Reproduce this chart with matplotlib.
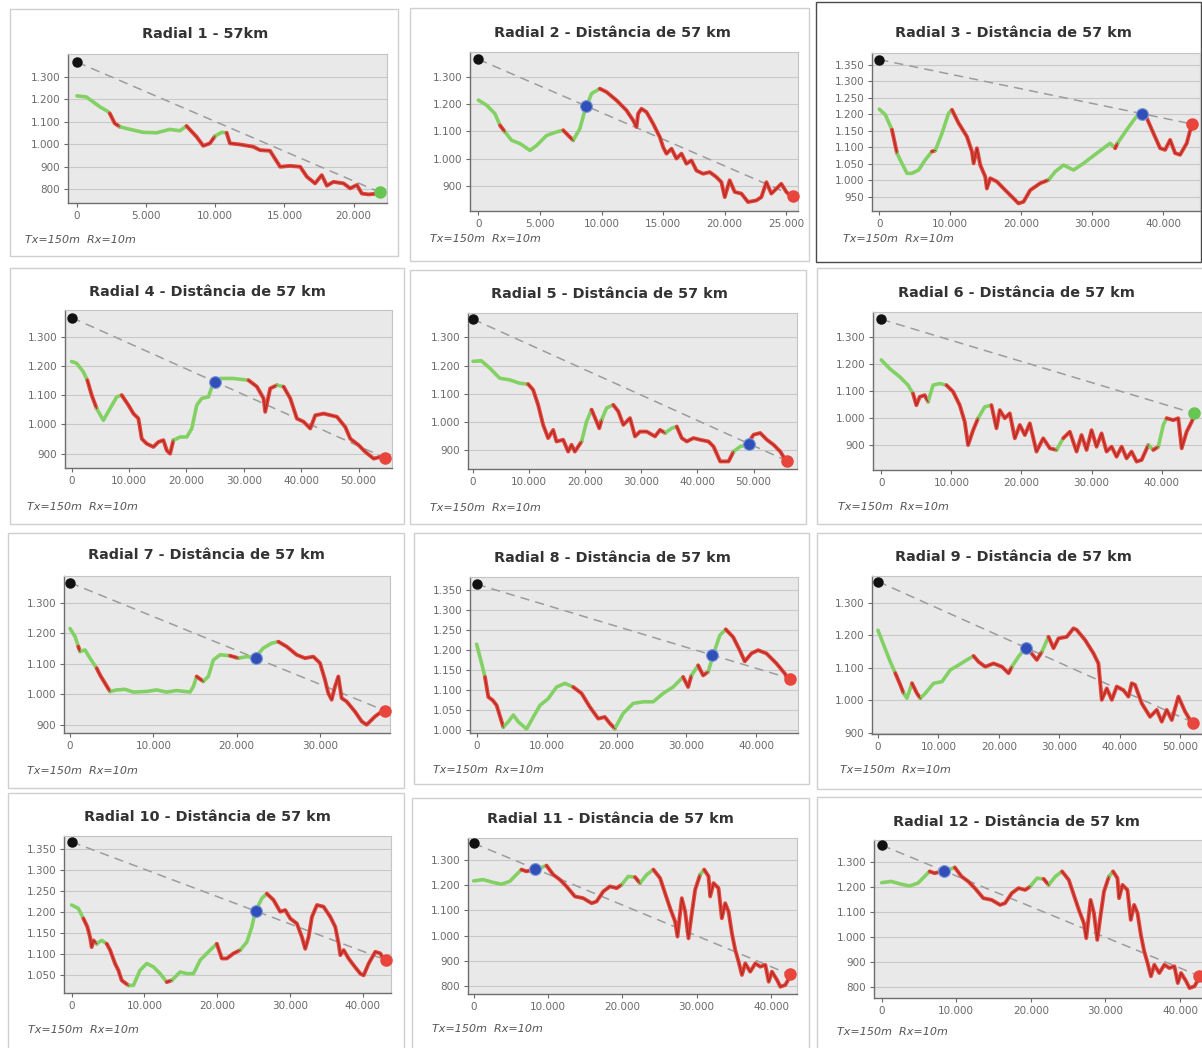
import numpy as np
import matplotlib
matplotlib.use("Agg")
import matplotlib.pyplot as plt
from matplotlib.patches import Rectangle
from matplotlib.ticker import FixedLocator, FuncFormatter

# Antenna heights above ground (m)
TX_HEIGHT = 150
RX_HEIGHT = 10

titles = [
    "Radial 1 - 57km",
    "Radial 2 - Distância de 57 km",
    "Radial 3 - Distância de 57 km",
    "Radial 4 - Distância de 57 km",
    "Radial 5 - Distância de 57 km",
    "Radial 6 - Distância de 57 km",
    "Radial 7 - Distância de 57 km",
    "Radial 8 - Distância de 57 km",
    "Radial 9 - Distância de 57 km",
    "Radial 10 - Distância de 57 km",
    "Radial 11 - Distância de 57 km",
    "Radial 12 - Distância de 57 km",
]
note_text = "Tx=150m  Rx=10m"

# ---- terrain profiles: distance (m), ground elevation (m), obstructed (red) spans ----
r1_dist = [0, 680, 1640, 2250, 2370, 2730, 3090, 3570, 4780, 5750, 6710, 7440, 7920, 8650, 9130,
           9610, 9980, 10460, 10820, 11060, 11790, 12750, 13240, 13960, 14690, 15410, 16140, 16620,
           17220, 17700, 18070, 18550, 19280, 19760, 20240, 20600, 21090, 21690, 21930]
r1_elev = [1215, 1210, 1167, 1145, 1137, 1093, 1078, 1070, 1053, 1051, 1066, 1060, 1081, 1033, 993,
           1004, 1036, 1053, 1051, 1004, 999, 989, 974, 971, 900, 904, 900, 856,
           826, 863, 816, 833, 826, 804, 819, 781, 777, 781, 776]
r1_red = [(2370, 3090), (7920, 9980), (10820, 21930)]
r1_blue = None

r2_dist = [0, 680, 1350, 1760, 2160, 2700, 3380, 4190, 4730, 5540, 6350, 6890, 7300, 7700, 8240,
           8650, 9190, 9860, 10400, 11220, 12030, 12570, 12840, 12970, 13240, 13650, 14190, 14730,
           15000, 15270, 15680, 16080, 16490, 16890, 17300, 17700, 18240, 18780, 19320, 19730, 20000,
           20400, 20810, 21350, 21890, 22570, 22970, 23380, 23780, 24190, 24590, 25000, 25540]
r2_elev = [1215, 1196, 1165, 1122, 1098, 1067, 1055, 1030, 1048, 1085, 1098, 1104, 1085, 1067, 1110,
           1177, 1239, 1257, 1245, 1214, 1177, 1140, 1116, 1165, 1183, 1171, 1128, 1079,
           1042, 1018, 1036, 1000, 1018, 981, 993, 956, 944, 950, 932, 913, 858,
           920, 877, 871, 840, 846, 858, 913, 871, 889, 907, 877, 854]
r2_red = [(1760, 2160), (6890, 7700), (9860, 25540)]
r2_blue = 8730

r3_dist = [0, 850, 1780, 2490, 3190, 3900, 4600, 5540, 6480, 7420, 7890, 8830, 9770, 10240, 11170,
           12350, 13050, 13290, 13760, 14230, 14930, 15160, 15630, 16570, 17750, 18690, 19620, 20330,
           21270, 22680, 23850, 24790, 25960, 27370, 28780, 30660, 32540, 33240, 33570, 34880, 36060,
           36760, 37700, 38640, 39580, 40280, 40990, 41690, 42390, 43330, 43800, 44130]
r3_elev = [1215, 1198, 1153, 1082, 1051, 1021, 1021, 1031, 1062, 1087, 1090, 1142, 1203, 1213, 1173,
           1132, 1087, 1051, 1097, 1046, 1011, 975, 1006, 996, 970, 950, 930, 935,
           970, 991, 1001, 1026, 1046, 1031, 1051, 1082, 1112, 1097, 1112, 1153, 1188,
           1203, 1188, 1142, 1097, 1092, 1122, 1082, 1077, 1112, 1150, 1160]
r3_red = [(1780, 2490), (7420, 7890), (10240, 23850), (33240, 33570), (36760, 44130)]
r3_blue = 37000

r4_dist = [0, 870, 2030, 2730, 3490, 4360, 5520, 6690, 7850, 8720, 9880, 10760, 11630, 12210, 13080,
           14240, 15120, 15990, 16570, 17150, 17730, 18900, 20060, 20930, 21800, 22670, 23840, 24710,
           25870, 28200, 30810, 32270, 33430, 33720, 34590, 35760, 36920, 38080, 39240, 40410, 41570,
           42440, 43900, 46220, 47670, 48550, 50000, 51160, 52620, 53780, 54650]
r4_elev = [1215, 1209, 1180, 1151, 1100, 1054, 1014, 1054, 1094, 1100, 1066, 1037, 1020, 951, 934,
           923, 940, 946, 911, 900, 946, 957, 957, 986, 1066, 1089, 1094, 1146,
           1157, 1157, 1151, 1129, 1089, 1043, 1123, 1134, 1129, 1089, 1020, 1009, 986,
           1031, 1037, 1026, 991, 951, 929, 906, 883, 889, 875]
r4_red = [(2730, 4360), (8720, 17730), (30810, 35760), (36920, 54650)]
r4_blue = 25000

r5_dist = [0, 1490, 2980, 4760, 6550, 8330, 9820, 10710, 11610, 12500, 13390, 14290, 14880, 16070,
           16960, 17560, 18150, 19350, 20240, 21130, 22020, 22500, 22920, 23810, 25000, 25890, 26790,
           27980, 28870, 29760, 30950, 32440, 33330, 34230, 35420, 36310, 37200, 38100, 39290, 40480,
           41960, 42860, 44050, 45540, 46430, 47620, 48810, 50000, 51190, 52380, 53570, 54760, 55650,
           55950]
r5_elev = [1215, 1217, 1191, 1155, 1149, 1137, 1134, 1114, 1060, 989, 942, 971, 930, 936,
           894, 918, 894, 930, 1001, 1043, 1001, 977, 1007, 1049, 1060, 1037, 989,
           1013, 948, 965, 965, 948, 971, 960, 977, 983, 942, 930, 942, 936,
           930, 912, 859, 859, 894, 912, 918, 954, 960, 936, 918, 894, 865,
           851]
r5_red = [(9820, 19350), (21130, 22920), (25000, 34230), (36310, 46430), (48810, 55950)]
r5_blue = 49100

r6_dist = [0, 1190, 2620, 3810, 4520, 5000, 5480, 6190, 6670, 7380, 8330, 9290, 10240, 11190, 11900,
           12380, 13100, 13810, 14760, 15710, 16430, 16900, 17620, 18330, 19050, 19760, 20480, 21190,
           22140, 23100, 24050, 25000, 25950, 26900, 27860, 28570, 29290, 30000, 30710, 31430, 32140,
           32860, 33570, 34290, 35000, 35710, 36430, 37140, 38100, 38810, 39520, 40240, 40710, 41670,
           42380, 42860, 43570, 44290, 44620]
r6_elev = [1215, 1183, 1153, 1122, 1091, 1048, 1079, 1085, 1061, 1122, 1128, 1122, 1098, 1048, 987,
           901, 956, 1000, 1042, 1048, 963, 1030, 1000, 1018, 926, 975, 938, 981,
           877, 926, 889, 883, 926, 950, 877, 938, 883, 956, 895, 944, 877,
           895, 858, 895, 852, 877, 840, 846, 901, 883, 895, 975, 1000, 993,
           1000, 889, 950, 987, 1008]
r6_red = [(4520, 6670), (9290, 13810), (15710, 25000), (25950, 38100), (38810, 39520), (40710, 44620)]
r6_blue = None

r7_dist = [0, 600, 1000, 1200, 1800, 2400, 3200, 3600, 4200, 4800, 5600, 6600, 7600, 9200, 10400,
           11600, 12800, 14400, 14800, 15200, 16000, 16600, 17200, 18000, 19200, 20200, 21200, 22200,
           23200, 24200, 25000, 26000, 27200, 28200, 29200, 30000, 30600, 31000, 31400, 31800, 32200,
           32600, 33200, 34200, 35000, 35600, 36600, 37400, 37800]
r7_elev = [1215, 1189, 1156, 1140, 1145, 1118, 1085, 1063, 1036, 1009, 1014, 1016, 1007, 1009, 1014,
           1007, 1012, 1007, 1025, 1058, 1042, 1058, 1112, 1129, 1126, 1118, 1123, 1120,
           1151, 1167, 1172, 1156, 1129, 1118, 1123, 1102, 1047, 1003, 982, 1025, 1058,
           987, 976, 943, 911, 900, 927, 943, 936]
r7_red = [(1000, 1200), (3200, 4800), (15200, 16000), (19200, 20200), (25000, 37800)]
r7_blue = 22280

r8_dist = [0, 710, 1190, 1670, 2290, 2860, 3810, 4520, 5240, 5950, 7140, 8100, 9050, 10240, 11430,
           12620, 13810, 15000, 16190, 17380, 18330, 19050, 19760, 20950, 22380, 23810, 25240, 26670,
           28100, 29520, 30240, 30710, 31670, 32380, 33100, 33810, 34760, 35620, 36670, 37620, 38330,
           39290, 40240, 41430, 42860, 44050, 44860]
r8_elev = [1215, 1167, 1133, 1083, 1075, 1062, 1008, 1021, 1038, 1021, 1003, 1033, 1062, 1079, 1108,
           1117, 1108, 1092, 1058, 1029, 1033, 1017, 1004, 1042, 1067, 1071, 1071, 1092,
           1108, 1133, 1108, 1137, 1162, 1137, 1146, 1187, 1237, 1252, 1233, 1200, 1172,
           1192, 1200, 1192, 1167, 1142, 1119]
r8_red = [(1190, 3810), (13810, 19760), (29520, 30710), (31670, 33100), (35620, 44860)]
r8_blue = 33670

r9_dist = [0, 940, 2040, 2870, 3690, 4240, 4790, 5620, 6450, 7000, 7820, 9200, 10580, 11960, 13330,
           14710, 15810, 16640, 17740, 19120, 20500, 21600, 22150, 23250, 24350, 25180, 26280, 27110,
           28210, 29040, 29860, 31240, 32340, 32890, 34270, 35650, 36470, 37020, 37850, 38680, 39500,
           40600, 41430, 41980, 42530, 43640, 45010, 46120, 46940, 47770, 48600, 49700, 50800, 51630,
           52180]
r9_elev = [1215, 1170, 1118, 1083, 1047, 1021, 1006, 1052, 1021, 1006, 1021, 1052, 1057, 1093, 1108,
           1124, 1136, 1118, 1103, 1113, 1103, 1083, 1103, 1134, 1160, 1149, 1124, 1149,
           1195, 1160, 1190, 1195, 1221, 1216, 1185, 1144, 1113, 1001, 1036, 1001, 1042,
           1031, 1011, 1052, 1047, 990, 949, 970, 934, 970, 939, 1011, 965, 939,
           921]
r9_red = [(2870, 4240), (5620, 7000), (15810, 22150), (24350, 27110), (28210, 52180)]
r9_blue = 24520

r10_dist = [0, 920, 1610, 2160, 2520, 2750, 2980, 3440, 4130, 4820, 5280, 5960, 6420, 6880, 7800,
            8490, 9400, 10320, 11240, 12160, 13070, 13760, 14910, 15830, 16740, 17660, 18810, 19950,
            20640, 21330, 22250, 23170, 24080, 24770, 25230, 26150, 26830, 27750, 28670, 29360, 30050,
            30960, 31650, 32110, 32570, 33030, 33720, 34630, 35550, 36240, 36700, 36930, 37390, 38070,
            38760, 39680, 40140, 40830, 41740, 42430, 43260]
r10_elev = [1217, 1209, 1185, 1165, 1141, 1117, 1133, 1125, 1133, 1125, 1110, 1078, 1062, 1038, 1026,
            1026, 1062, 1078, 1070, 1054, 1034, 1038, 1058, 1054, 1054, 1086, 1106, 1125,
            1090, 1090, 1102, 1110, 1129, 1165, 1201, 1233, 1244, 1229, 1201, 1205, 1185,
            1173, 1141, 1113, 1141, 1189, 1217, 1213, 1189, 1165, 1125, 1098, 1110, 1090,
            1074, 1054, 1050, 1078, 1106, 1102, 1076]
r10_red = [(1610, 3440), (4820, 7800), (13070, 13760), (19950, 23170), (26830, 43260)]
r10_blue = 25320

r11_dist = [0, 1260, 2610, 3730, 4850, 5750, 6430, 7100, 8900, 9800, 10700, 11600, 12490, 13620,
            14740, 15870, 16540, 17440, 18340, 19240, 19910, 20810, 21710, 22380, 23280, 24180, 25080,
            25750, 26430, 27100, 27420, 28000, 28450, 28900, 29350, 29800, 30470, 31010, 31600, 31820,
            32270, 32940, 33390, 33840, 34290, 34740, 35190, 35640, 36090, 36540, 37210, 37890, 38560,
            39240, 39690, 40130, 40810, 41260, 41930, 42520]
r11_elev = [1218, 1223, 1212, 1205, 1216, 1243, 1263, 1256, 1269, 1279, 1243, 1223, 1196, 1156,
            1149, 1129, 1136, 1176, 1196, 1189, 1203, 1236, 1233, 1209, 1243, 1263, 1229,
            1169, 1109, 1056, 996, 1149, 1096, 989, 1089, 1183, 1243, 1263, 1236, 1156,
            1209, 1189, 1069, 1129, 1096, 1009, 943, 896, 843, 889, 856, 889, 876,
            883, 816, 856, 823, 796, 803, 835]
r11_red = [(6430, 8900), (9800, 19910), (21710, 22380), (24180, 30470), (31010, 42520)]
r11_blue = 8310

r12_dist = r11_dist
r12_elev = r11_elev
r12_red = r11_red
r12_blue = r11_blue

# Receiver marker colour (clear path = green, obstructed = red)
rx_colors = ["g", "r", "r", "r", "r", "g", "r", "r", "r", "r", "r", "r"]

# Axis ticks per radial
x_ticks = [
    [0, 5000, 10000, 15000, 20000],
    [0, 5000, 10000, 15000, 20000, 25000],
    [0, 10000, 20000, 30000, 40000],
    [0, 10000, 20000, 30000, 40000, 50000],
    [0, 10000, 20000, 30000, 40000, 50000],
    [0, 10000, 20000, 30000, 40000],
    [0, 10000, 20000, 30000],
    [0, 10000, 20000, 30000, 40000],
    [0, 10000, 20000, 30000, 40000, 50000],
    [0, 10000, 20000, 30000, 40000],
    [0, 10000, 20000, 30000, 40000],
    [0, 10000, 20000, 30000, 40000],
]
y_ticks = [
    [800, 900, 1000, 1100, 1200, 1300],
    [900, 1000, 1100, 1200, 1300],
    [950, 1000, 1050, 1100, 1150, 1200, 1250, 1300, 1350],
    [900, 1000, 1100, 1200, 1300],
    [900, 1000, 1100, 1200, 1300],
    [900, 1000, 1100, 1200, 1300],
    [900, 1000, 1100, 1200, 1300],
    [1000, 1050, 1100, 1150, 1200, 1250, 1300, 1350],
    [900, 1000, 1100, 1200, 1300],
    [1050, 1100, 1150, 1200, 1250, 1300, 1350],
    [800, 900, 1000, 1100, 1200, 1300],
    [800, 900, 1000, 1100, 1200, 1300],
]
x_limits = [(-650, 22420), (-676, 25946), (-1030, 45200), (-1160, 55810), (-890, 57740),
            (-1190, 46190), (-720, 38400), (-950, 45950), (-990, 54100), (-1055, 43900),
            (-760, 43500), (-1030, 43740)]
y_limits = [(739, 1401), (807, 1392), (907, 1385), (851, 1391), (832, 1387), (809, 1392),
            (873, 1387), (993, 1383), (896, 1382), (1008, 1381), (767, 1389), (756, 1389)]

profiles = [
    (r1_dist, r1_elev, r1_red, r1_blue), (r2_dist, r2_elev, r2_red, r2_blue),
    (r3_dist, r3_elev, r3_red, r3_blue), (r4_dist, r4_elev, r4_red, r4_blue),
    (r5_dist, r5_elev, r5_red, r5_blue), (r6_dist, r6_elev, r6_red, r6_blue),
    (r7_dist, r7_elev, r7_red, r7_blue), (r8_dist, r8_elev, r8_red, r8_blue),
    (r9_dist, r9_elev, r9_red, r9_blue), (r10_dist, r10_elev, r10_red, r10_blue),
    (r11_dist, r11_elev, r11_red, r11_blue), (r12_dist, r12_elev, r12_red, r12_blue),
]

# ---- layout in pixels: (plot left, top, right, bottom), (card left, top, right, bottom),
#      title centre (x, y), note position (x, y) ----
W, H = 1202, 1048
layout = [
    ((68, 54, 387, 203), (10, 9, 398, 256), (205, 34), (25, 240)),
    ((470, 52, 798, 211), (410, 8, 809, 261), (612, 33), (430, 239)),
    ((872, 53, 1200, 211), (816, 2, 1201, 262), (1013, 33), (843, 239)),
    ((65, 310, 392, 468), (10, 268, 404, 524), (207, 292), (27, 507)),
    ((468, 313, 797, 469), (410, 270, 806, 524), (609, 294), (430, 508)),
    ((873, 312, 1205, 470), (817, 268, 1206, 524), (1016, 293), (838, 507)),
    ((64, 576, 390, 733), (8, 533, 404, 788), (206, 555), (27, 771)),
    ((470, 577, 798, 733), (414, 533, 809, 784), (612, 558), (433, 770)),
    ((872, 576, 1205, 734), (817, 533, 1206, 789), (1013, 557), (840, 770)),
    ((64, 836, 391, 993), (8, 793, 404, 1052), (207, 817), (28, 1030)),
    ((468, 838, 797, 994), (412, 798, 809, 1052), (610, 819), (432, 1029)),
    ((874, 840, 1208, 998), (817, 797, 1206, 1052), (1016, 822), (837, 1032)),
]

GREEN = "#83d165"
RED = "#e8443a"
RED_CORE = "#a52c28"
MARK_COL = {"g": "#69c552", "r": "#e8453c"}


def thousands(v, _pos=None):
    return f"{int(round(v)):,}".replace(",", ".")


def draw_profile(ax, dist, elev, red_spans):
    d = np.asarray(dist, float)
    e = np.asarray(elev, float)
    mids = (d[:-1] + d[1:]) / 2
    red = np.zeros(len(mids), bool)
    for a, b in red_spans:
        red |= (mids > a) & (mids < b)
    start = 0
    for i in range(1, len(mids) + 1):
        if i == len(mids) or red[i] != red[start]:
            xs, ys = d[start:i + 1], e[start:i + 1]
            if red[start]:
                ax.plot(xs, ys, color=RED, lw=2.8, solid_capstyle="round",
                        solid_joinstyle="round", zorder=3)
                ax.plot(xs, ys, color=RED_CORE, lw=0.8, solid_joinstyle="round", zorder=4)
            else:
                ax.plot(xs, ys, color=GREEN, lw=2.6, solid_capstyle="round",
                        solid_joinstyle="round", zorder=3)
            start = i


fig = plt.figure(figsize=(W / 100, H / 100), dpi=100)
fig.patch.set_facecolor("white")

for k in range(12):
    (pl, pt, pr, pb), (cl, ct, cr, cb), (tx, ty), (nx, ny) = layout[k]
    dist, elev, red_spans, blue = profiles[k]

    # card behind each chart
    edge = "#4a4a4a" if k == 2 else "#cfcfcf"
    fig.patches.append(Rectangle((cl / W, 1 - cb / H), (cr - cl) / W, (cb - ct) / H,
                                 transform=fig.transFigure, facecolor="white",
                                 edgecolor=edge, lw=1.0, zorder=-5))

    ax = fig.add_axes([pl / W, 1 - pb / H, (pr - pl) / W, (pb - pt) / H])
    ax.set_zorder(2)
    ax.set_facecolor("#e9e9e9")
    ax.set_xlim(*x_limits[k])
    ax.set_ylim(*y_limits[k])
    ax.xaxis.set_major_locator(FixedLocator(x_ticks[k]))
    ax.yaxis.set_major_locator(FixedLocator(y_ticks[k]))
    ax.xaxis.set_major_formatter(FuncFormatter(thousands))
    ax.yaxis.set_major_formatter(FuncFormatter(thousands))
    ax.tick_params(axis="both", labelsize=7.5, colors="#6a6a6a", length=3, width=0.8,
                   direction="out", pad=2.5)
    ax.grid(axis="y", color="#c8c8c8", lw=0.8)
    ax.set_axisbelow(True)
    for side in ("left", "bottom"):
        ax.spines[side].set_color("#6e6e6e")
        ax.spines[side].set_linewidth(1.0)
    for side in ("top", "right"):
        ax.spines[side].set_color("#c4c4c4")
        ax.spines[side].set_linewidth(0.8)

    draw_profile(ax, dist, elev, red_spans)

    # line of sight between transmitter and receiver
    tx_y = elev[0] + TX_HEIGHT
    rx_x, rx_y = dist[-1], elev[-1] + RX_HEIGHT
    ax.plot([0, rx_x], [tx_y, rx_y], color="#9c9c9c", lw=1.1, dashes=(6, 4), zorder=2)

    ax.plot([0], [tx_y], "o", color="#111111", ms=6.5, zorder=6, clip_on=False)
    ax.plot([rx_x], [rx_y], "o", color=MARK_COL[rx_colors[k]], ms=8, zorder=6, clip_on=False)
    if blue is not None:
        by = np.interp(blue, [0, rx_x], [tx_y, rx_y])
        ax.plot([blue], [by], "o", color="#3050b8", mec="#7f95da", mew=0.8, ms=8.5, zorder=6)

    fig.text(tx / W, 1 - ty / H, titles[k], ha="center", va="center", fontsize=10.4,
             fontweight="bold", color="#333333", zorder=3)
    fig.text(nx / W, 1 - ny / H, note_text, ha="left", va="center", fontsize=8,
             style="italic", color="#555555", zorder=3)

fig.savefig("out.png", dpi=100, facecolor="white")
